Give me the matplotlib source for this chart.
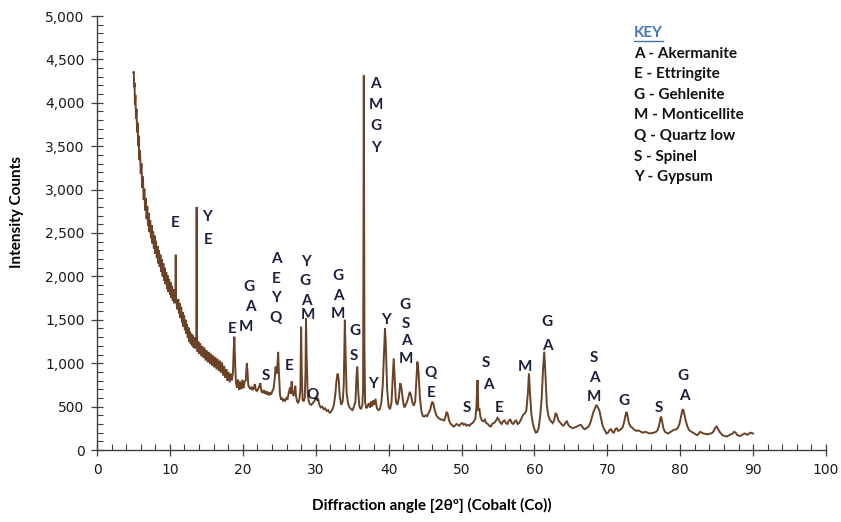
import numpy as np
import matplotlib
matplotlib.use("Agg")
import matplotlib.pyplot as plt
from matplotlib.lines import Line2D
from matplotlib.ticker import MultipleLocator, FuncFormatter

# XRD trace (2-theta, intensity counts)
two_theta = [
    5.00, 5.05, 5.10, 5.15, 5.20, 5.27, 5.35, 5.42, 5.50, 5.58,
    5.65, 5.72, 5.80, 5.90, 6.00, 6.10, 6.20, 6.30, 6.40, 6.50,
    6.60, 6.70, 6.80, 6.90, 7.00, 7.10, 7.20, 7.30, 7.40, 7.50,
    7.60, 7.70, 7.80, 7.90, 8.00, 8.10, 8.20, 8.30, 8.40, 8.50,
    8.60, 8.70, 8.80, 8.90, 9.00, 9.10, 9.20, 9.30, 9.40, 9.50,
    9.60, 9.70, 9.80, 9.90, 10.00, 10.10, 10.20, 10.30, 10.40, 10.50,
    10.60, 10.70, 10.76, 10.80, 10.85, 10.95, 11.05, 11.15, 11.25, 11.35,
    11.45, 11.55, 11.65, 11.75, 11.85, 11.95, 12.05, 12.15, 12.25, 12.35,
    12.45, 12.55, 12.65, 12.75, 12.85, 12.95, 13.05, 13.15, 13.25, 13.35,
    13.45, 13.55, 13.62, 13.67, 13.72, 13.80, 13.90, 14.00, 14.15, 14.30,
    14.45, 14.60, 14.75, 14.90, 15.05, 15.20, 15.35, 15.50, 15.65, 15.80,
    15.95, 16.10, 16.25, 16.40, 16.55, 16.70, 16.85, 17.00, 17.15, 17.30,
    17.45, 17.60, 17.75, 17.90, 18.05, 18.20, 18.35, 18.50, 18.65, 18.75,
    18.84, 18.95, 19.05, 19.20, 19.35, 19.50, 19.65, 19.80, 19.95, 20.10,
    20.25, 20.40, 20.55, 20.65, 20.75, 20.90, 21.05, 21.20, 21.35, 21.50,
    21.65, 21.80, 21.95, 22.10, 22.25, 22.40, 22.55, 22.70, 22.85, 23.00,
    23.15, 23.30, 23.45, 23.60, 23.75, 23.90, 24.05, 24.20, 24.35, 24.50,
    24.60, 24.70, 24.85, 24.95, 25.10, 25.25, 25.40, 25.55, 25.70, 25.85,
    26.00, 26.15, 26.35, 26.50, 26.60, 26.70, 26.80, 26.95, 27.10, 27.20,
    27.30, 27.45, 27.60, 27.75, 27.90, 28.00, 28.08, 28.20, 28.35, 28.50,
    28.60, 28.67, 28.75, 28.90, 29.05, 29.20, 29.40, 29.60, 29.80, 30.00,
    30.15, 30.30, 30.50, 30.70, 30.90, 31.10, 31.30, 31.50, 31.70, 31.90,
    32.10, 32.30, 32.50, 32.70, 32.85, 33.00, 33.15, 33.30, 33.50, 33.70,
    33.85, 34.00, 34.10, 34.25, 34.45, 34.65, 34.85, 35.05, 35.25, 35.45,
    35.60, 35.70, 35.85, 36.00, 36.20, 36.40, 36.50, 36.60, 36.68, 36.78,
    36.95, 37.10, 37.30, 37.45, 37.60, 37.75, 37.90, 38.05, 38.20, 38.40,
    38.60, 38.80, 39.00, 39.20, 39.40, 39.50, 39.60, 39.80, 40.00, 40.20,
    40.40, 40.55, 40.70, 40.85, 41.00, 41.20, 41.40, 41.60, 41.75, 41.95,
    42.15, 42.35, 42.55, 42.75, 42.90, 43.05, 43.25, 43.45, 43.65, 43.80,
    43.95, 44.10, 44.30, 44.50, 44.70, 44.90, 45.10, 45.30, 45.50, 45.70,
    45.85, 46.00, 46.15, 46.35, 46.55, 46.80, 47.00, 47.20, 47.40, 47.60,
    47.80, 47.95, 48.10, 48.30, 48.50, 48.70, 48.90, 49.10, 49.30, 49.50,
    49.70, 49.90, 50.10, 50.30, 50.50, 50.70, 50.90, 51.10, 51.30, 51.50,
    51.70, 51.90, 52.05, 52.20, 52.32, 52.45, 52.60, 52.80, 53.00, 53.20,
    53.40, 53.60, 53.80, 54.00, 54.20, 54.40, 54.60, 54.80, 54.95, 55.10,
    55.30, 55.50, 55.70, 55.90, 56.10, 56.30, 56.50, 56.70, 56.90, 57.10,
    57.30, 57.50, 57.70, 57.90, 58.10, 58.30, 58.50, 58.70, 58.90, 59.10,
    59.25, 59.40, 59.60, 59.80, 60.00, 60.20, 60.40, 60.60, 60.80, 61.00,
    61.20, 61.35, 61.50, 61.70, 61.90, 62.10, 62.30, 62.50, 62.70, 62.90,
    63.05, 63.30, 63.50, 63.70, 63.90, 64.10, 64.30, 64.45, 64.65, 64.85,
    65.05, 65.30, 65.55, 65.80, 66.05, 66.30, 66.50, 66.70, 66.90, 67.10,
    67.30, 67.50, 67.70, 67.90, 68.10, 68.30, 68.50, 68.70, 68.90, 69.10,
    69.30, 69.50, 69.70, 69.90, 70.10, 70.30, 70.50, 70.70, 70.90, 71.10,
    71.30, 71.50, 71.70, 71.90, 72.10, 72.30, 72.50, 72.65, 72.80, 73.00,
    73.20, 73.40, 73.60, 73.80, 74.00, 74.30, 74.60, 74.90, 75.20, 75.50,
    75.80, 76.10, 76.40, 76.70, 76.90, 77.10, 77.30, 77.40, 77.55, 77.70,
    77.90, 78.10, 78.30, 78.50, 78.70, 78.90, 79.10, 79.30, 79.50, 79.70,
    79.90, 80.10, 80.30, 80.40, 80.55, 80.75, 80.95, 81.15, 81.35, 81.55,
    81.75, 81.95, 82.15, 82.35, 82.55, 82.75, 82.95, 83.20, 83.45, 83.70,
    83.95, 84.20, 84.45, 84.65, 84.85, 85.00, 85.20, 85.40, 85.60, 85.80,
    86.00, 86.20, 86.40, 86.60, 86.80, 87.00, 87.20, 87.40, 87.60, 87.80,
    88.00, 88.20, 88.40, 88.60, 88.80, 89.00, 89.20, 89.40, 89.60, 89.80,
    90.00,
]
counts = [
    4350, 4360, 4180, 4230, 3980, 4090, 3820, 3930, 3660, 3770,
    3500, 3620, 3340, 3450, 3180, 3300, 3020, 3150, 2880, 3010,
    2760, 2900, 2660, 2810, 2580, 2730, 2510, 2650, 2440, 2590,
    2380, 2520, 2320, 2470, 2260, 2410, 2210, 2350, 2150, 2300,
    2110, 2250, 2050, 2200, 2000, 2150, 1950, 2100, 1910, 2050,
    1860, 2010, 1820, 1970, 1790, 1930, 1750, 1890, 1720, 1850,
    1690, 1810, 1800, 2250, 1750, 1660, 1620, 1740, 1570, 1690,
    1520, 1650, 1470, 1590, 1420, 1550, 1380, 1500, 1340, 1450,
    1290, 1410, 1250, 1370, 1220, 1340, 1200, 1320, 1180, 1300,
    1170, 1280, 1260, 2800, 1200, 1130, 1250, 1110, 1230, 1080,
    1200, 1060, 1180, 1030, 1150, 1010, 1130, 990, 1110, 970,
    1090, 950, 1070, 930, 1050, 910, 1030, 890, 1010, 860,
    970, 830, 930, 800, 900, 780, 880, 800, 900, 1150,
    1305, 1000, 780, 720, 810, 690, 790, 700, 810, 710,
    790, 800, 1000, 900, 750, 720, 700, 730, 690, 710,
    760, 690, 680, 700, 730, 770, 680, 660, 690, 650,
    680, 640, 670, 630, 660, 640, 680, 700, 800, 960,
    880, 900, 1130, 900, 640, 580, 600, 560, 580, 570,
    600, 590, 680, 720, 650, 790, 680, 620, 680, 740,
    620, 560, 540, 580, 700, 1420, 900, 580, 560, 600,
    900, 1517, 1100, 650, 560, 530, 520, 540, 560, 610,
    580, 600, 520, 490, 500, 470, 480, 450, 460, 430,
    440, 470, 520, 650, 800, 880, 820, 620, 520, 560,
    750, 1500, 1100, 650, 530, 490, 470, 460, 500, 560,
    850, 960, 650, 500, 470, 520, 700, 4320, 1200, 550,
    480, 500, 540, 490, 560, 500, 570, 520, 590, 480,
    460, 470, 540, 750, 1200, 1400, 1250, 700, 500, 470,
    550, 800, 1056, 800, 560, 520, 600, 770, 720, 580,
    490, 520, 560, 620, 670, 640, 550, 510, 560, 800,
    1018, 900, 600, 450, 390, 385, 400, 390, 430, 460,
    520, 557, 530, 450, 400, 370, 360, 350, 350, 340,
    380, 440, 420, 340, 300, 290, 270, 280, 300, 290,
    280, 300, 310, 290, 300, 280, 290, 280, 300, 310,
    330, 360, 500, 806, 450, 480, 380, 340, 330, 350,
    310, 300, 280, 270, 300, 310, 320, 350, 370, 350,
    320, 300, 330, 340, 310, 300, 340, 350, 310, 300,
    330, 340, 300, 310, 340, 380, 410, 420, 460, 650,
    883, 650, 400, 300, 240, 200, 210, 260, 400, 600,
    950, 1133, 900, 520, 400, 350, 330, 310, 340, 420,
    410, 340, 320, 300, 280, 290, 320, 330, 290, 270,
    260, 250, 260, 270, 280, 290, 280, 250, 240, 250,
    260, 280, 320, 380, 440, 480, 520, 490, 460, 380,
    300, 250, 220, 190, 200, 230, 240, 210, 200, 240,
    250, 220, 230, 240, 260, 320, 400, 440, 380, 300,
    270, 260, 240, 230, 220, 225, 210, 200, 210, 200,
    190, 195, 200, 210, 230, 280, 370, 384, 320, 250,
    210, 200, 190, 200, 210, 220, 230, 235, 240, 260,
    300, 380, 460, 470, 420, 340, 280, 240, 220, 210,
    200, 190, 180, 170, 190, 210, 200, 190, 185, 180,
    185, 190, 200, 230, 260, 270, 240, 210, 190, 170,
    165, 160, 155, 165, 175, 180, 190, 210, 200, 175,
    165, 160, 170, 180, 190, 185, 175, 185, 200, 195,
    190,
]
assert len(two_theta) == len(counts)

# phase letters placed over the peaks
peak_letters = ["E", "Y", "E", "E", "G", "A", "M", "S",
                "A", "E", "Y", "Q", "E", "Y", "G", "A", "M", "Q",
                "G", "A", "M", "G", "S", "A", "M", "G", "Y", "Y", "Y",
                "G", "S", "A", "M", "Q", "E", "S", "S", "A", "E", "M",
                "G", "A", "S", "A", "M", "G", "S", "G", "A"]
peak_x = [10.70, 15.09, 15.23, 18.52, 20.85, 20.99, 20.44, 23.18,
          24.55, 24.55, 24.55, 24.55, 26.34, 28.67, 28.53, 28.67, 28.94, 29.63,
          33.06, 33.06, 33.06, 35.39, 35.25, 38.13, 38.27, 38.27, 38.27, 37.86, 39.64,
          42.25, 42.39, 42.39, 42.39, 45.82, 45.82, 50.75, 53.36, 53.64, 55.14, 58.71,
          61.73, 61.73, 68.18, 68.18, 68.18, 72.29, 77.09, 80.38, 80.52]
peak_y = [2615, 2684, 2419, 1394, 1878, 1647, 1417, 852,
          2200, 1970, 1751, 1521, 968, 2166, 1947, 1716, 1555, 634,
          2004, 1774, 1567, 1371, 1083, 4216, 3974, 3732, 3479, 760, 1498,
          1670, 1452, 1256, 1048, 887, 657, 484, 1002, 749, 484, 956,
          1475, 1198, 1060, 829, 611, 564, 484, 852, 622]

key_entries = ["A - Akermanite", "E - Ettringite", "G - Gehlenite",
               "M - Monticellite", "Q - Quartz low", "S - Spinel", "Y - Gypsum"]

TRACE = "#6b4226"
LETTER = "#1c1f3e"
FONT = "Lato"

fig = plt.figure(figsize=(8.41, 5.22), dpi=100)
ax = fig.add_axes([97 / 841, 1 - 450 / 522, 729 / 841, 434 / 522])

ax.plot(two_theta, counts, color=TRACE, lw=1.4, solid_joinstyle="miter")

for s, x, y in zip(peak_letters, peak_x, peak_y):
    ax.text(x, y, s, ha="center", va="center", fontsize=11,
            fontweight="bold", color=LETTER, family=FONT)

ax.set_xlim(0, 100)
ax.set_ylim(0, 5000)
ax.xaxis.set_major_locator(MultipleLocator(10))
ax.xaxis.set_minor_locator(MultipleLocator(2))
ax.yaxis.set_major_locator(MultipleLocator(500))
ax.yaxis.set_minor_locator(MultipleLocator(100))
ax.yaxis.set_major_formatter(FuncFormatter(lambda v, p: f"{int(v):,}"))

for side in ["top", "right"]:
    ax.spines[side].set_visible(False)
for side in ["left", "bottom"]:
    ax.spines[side].set_color("#404040")
    ax.spines[side].set_linewidth(1.0)

ax.tick_params(which="major", direction="inout", length=8, width=0.9,
               color="#404040", labelsize=10, pad=5)
ax.tick_params(which="minor", direction="in", length=4, width=0.8, color="#404040")
for lab in ax.get_xticklabels() + ax.get_yticklabels():
    lab.set_color("#1a1a1a")

fig.text(432 / 841, 1 - 505 / 522, "Diffraction angle [2θº] (Cobalt (Co))",
         ha="center", va="center", fontsize=11, fontweight="bold", family=FONT)
fig.text(17 / 841, 1 - 212 / 522, "Intensity Counts", rotation=90,
         ha="center", va="center", fontsize=11, fontweight="bold", family=FONT)

# key box text
key_title = fig.text(634 / 841, 1 - 33 / 522, "KEY", ha="left", va="center",
                     fontsize=11, fontweight="bold", color="#4472c4", family=FONT)
for i, entry in enumerate(key_entries):
    fig.text(634 / 841, 1 - (53.5 + i * 20.6) / 522, entry, ha="left", va="center",
             fontsize=11, fontweight="bold", color="#111111", family=FONT)

fig.canvas.draw()
bb = key_title.get_window_extent().transformed(fig.transFigure.inverted())
fig.add_artist(Line2D([bb.x0, bb.x1], [bb.y0 - 0.002, bb.y0 - 0.002],
                      transform=fig.transFigure, color="#4472c4", lw=1.0))

fig.savefig("out.png", dpi=100)
